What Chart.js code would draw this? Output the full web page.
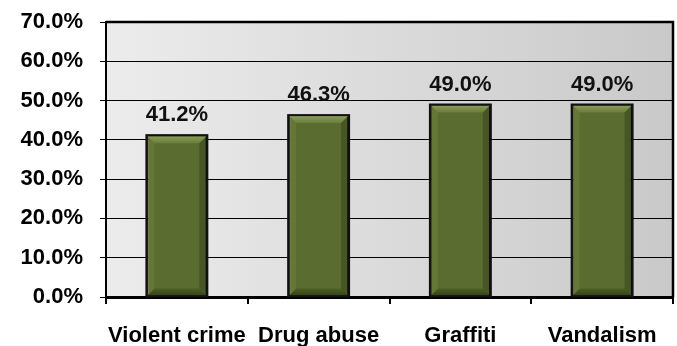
<!DOCTYPE html>
<html>
<head>
<meta charset="utf-8">
<script src="https://cdn.jsdelivr.net/npm/chart.js@4"></script>
<style>
  html, body { margin: 0; padding: 0; background: #fff; }
  #wrap { width: 677px; height: 346px; }
</style>
</head>
<body>
<div id="wrap"><canvas id="chart" width="677" height="346"></canvas></div>
<script>
// Problems reported, share of respondents (%)
const categories = ['Violent crime', 'Drug abuse', 'Graffiti', 'Vandalism'];
const shares = [41.2, 46.3, 49.0, 49.0];
const yMin = 0;
const yMax = 70;
const yStep = 10;

const fontFamily = '"Liberation Sans", Arial, sans-serif';

// grey gradient behind the plot + black frame
const plotBackground = {
    id: 'plotBackground',
    beforeDraw(chart) {
        const { ctx, chartArea: a } = chart;
        const g = ctx.createLinearGradient(a.left, 0, a.right, 0);
        g.addColorStop(0, '#ececec');
        g.addColorStop(1, '#c9c9c9');
        ctx.save();
        ctx.fillStyle = g;
        ctx.fillRect(a.left, a.top, a.right - a.left, a.bottom - a.top);
        ctx.restore();
    },
    afterDraw(chart) {
        const { ctx, chartArea: a } = chart;
        ctx.save();
        ctx.strokeStyle = '#000';
        ctx.lineWidth = 2.5;
        ctx.beginPath();
        ctx.moveTo(a.left, a.top);
        ctx.lineTo(a.right, a.top);
        ctx.lineTo(a.right, a.bottom);
        ctx.stroke();
        ctx.restore();
    }
};

// soft drop shadow to the right of the bars
const barShadow = {
    id: 'barShadow',
    beforeDatasetsDraw(chart) {
        const ctx = chart.ctx;
        ctx.save();
        ctx.shadowColor = 'rgba(0,0,0,0.5)';
        ctx.shadowBlur = 9;
        ctx.shadowOffsetX = 7;
        ctx.shadowOffsetY = 0;
    },
    afterDatasetsDraw(chart) {
        chart.ctx.restore();
    }
};

// bevelled edges and value labels on top of each bar
const barBevel = {
    id: 'barBevel',
    afterDatasetsDraw(chart) {
        const ctx = chart.ctx;
        const meta = chart.getDatasetMeta(0);
        const b = 7;
        meta.data.forEach((bar, i) => {
            const p = bar.getProps(['x', 'y', 'width', 'base'], true);
            const l = p.x - p.width / 2 + 1, r = p.x + p.width / 2 - 1;
            const t = p.y + 1, btm = p.base - 1;
            ctx.save();
            // top face
            let g = ctx.createLinearGradient(0, t, 0, t + b);
            g.addColorStop(0, '#8a9c58');
            g.addColorStop(1, '#6a7d3a');
            ctx.fillStyle = g;
            ctx.beginPath();
            ctx.moveTo(l, t); ctx.lineTo(r, t); ctx.lineTo(r - b, t + b); ctx.lineTo(l + b, t + b);
            ctx.closePath(); ctx.fill();
            // bottom face
            g = ctx.createLinearGradient(0, btm - b, 0, btm);
            g.addColorStop(0, '#4d5f25');
            g.addColorStop(1, '#35431a');
            ctx.fillStyle = g;
            ctx.beginPath();
            ctx.moveTo(l, btm); ctx.lineTo(r, btm); ctx.lineTo(r - b, btm - b); ctx.lineTo(l + b, btm - b);
            ctx.closePath(); ctx.fill();
            // side faces
            ctx.fillStyle = 'rgba(120,140,70,0.35)';
            ctx.beginPath();
            ctx.moveTo(l, t); ctx.lineTo(l + b, t + b); ctx.lineTo(l + b, btm - b); ctx.lineTo(l, btm);
            ctx.closePath(); ctx.fill();
            ctx.fillStyle = 'rgba(30,40,10,0.3)';
            ctx.beginPath();
            ctx.moveTo(r, t); ctx.lineTo(r - b, t + b); ctx.lineTo(r - b, btm - b); ctx.lineTo(r, btm);
            ctx.closePath(); ctx.fill();
            // outline again over the bevel
            ctx.strokeStyle = '#111';
            ctx.lineWidth = 2;
            ctx.strokeRect(p.x - p.width / 2, p.y, p.width, p.base - p.y);
            // value label
            ctx.fillStyle = '#111';
            ctx.font = 'bold 22px ' + fontFamily;
            ctx.textAlign = 'center';
            ctx.textBaseline = 'alphabetic';
            ctx.fillText(shares[i].toFixed(1) + '%', p.x, p.y - 14);
            ctx.restore();
        });
    }
};

new Chart(document.getElementById('chart'), {
    type: 'bar',
    data: {
        labels: categories,
        datasets: [{
            data: shares,
            backgroundColor: '#5a6c2f',
            borderColor: '#111',
            borderWidth: 2,
            borderSkipped: false,
            categoryPercentage: 1,
            barPercentage: 0.43
        }]
    },
    options: {
        responsive: false,
        animation: false,
        layout: { padding: { top: 22, right: 4, left: 0, bottom: 0 } },
        plugins: {
            legend: { display: false },
            tooltip: { enabled: false }
        },
        scales: {
            x: {
                afterFit(scale) { scale.height = 49; },
                grid: {
                    offset: true,
                    drawOnChartArea: false,
                    drawTicks: true,
                    tickLength: 7,
                    color: '#000',
                    lineWidth: 2
                },
                border: { color: '#000', width: 3 },
                ticks: {
                    color: '#000',
                    padding: 19,
                    maxRotation: 0,
                    minRotation: 0,
                    autoSkip: false,
                    font: { family: fontFamily, size: 22, weight: 'bold' }
                }
            },
            y: {
                min: yMin,
                max: yMax,
                afterFit(scale) { scale.width = 106; },
                grid: {
                    color: '#000',
                    lineWidth: 1,
                    tickLength: 6
                },
                border: { color: '#000', width: 2 },
                ticks: {
                    stepSize: yStep,
                    color: '#000',
                    padding: 17,
                    // small lineHeight so the top label doesn't push the plot down
                    font: { family: fontFamily, size: 22, weight: 'bold', lineHeight: 0.4 },
                    callback: v => v.toFixed(1) + '%'
                }
            }
        }
    },
    plugins: [plotBackground, barShadow, barBevel]
});
</script>
</body>
</html>
